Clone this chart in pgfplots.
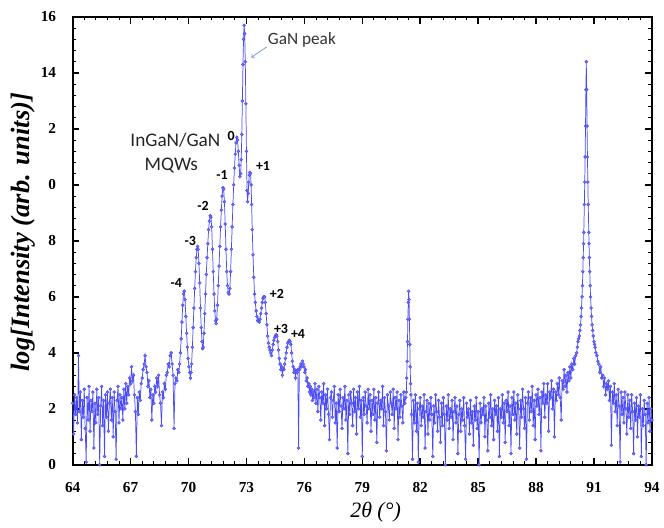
\documentclass[border=0pt]{standalone}
\usepackage{pgfplots}
\pgfplotsset{compat=1.18}
\usepackage{fontspec}
\setmainfont{Liberation Serif}
\newfontfamily\calibri{Carlito}
\definecolor{xrd}{RGB}{75,75,245}
\definecolor{arrowc}{RGB}{125,155,215}
\begin{document}
\begin{tikzpicture}
\begin{axis}[
  name=ax,
  scale only axis, width=436.5pt, height=337.5pt,
  xmin=64, xmax=94, ymin=0, ymax=16,
  xtick={64,67,...,94}, ytick={0,2,...,16},
  yticklabels={0,2,4,6,8,0,2,14,16},
  minor x tick num=4, minor y tick num=4,
  tick align=inside,
  major tick length=5pt, minor tick length=2.6pt,
  axis line style={line width=1.3pt},
  major tick style={black, line width=1.2pt},
  minor tick style={black, line width=0.6pt},
  ticklabel style={font=\bfseries\fontsize{11.5}{13}\selectfont},
  /pgf/number format/assume math mode=true,
  xticklabel style={yshift=-9.5pt},
  yticklabel style={xshift=-9pt},
  xlabel={2θ (°)},
  xlabel style={font=\itshape\fontsize{16.5}{18}\selectfont, at={(axis description cs:0.5,0)}, anchor=center, yshift=-36pt, xshift=10pt},
  ylabel={log[Intensity (arb. units)]},
  ylabel style={font=\bfseries\itshape\fontsize{20}{22}\selectfont, at={(axis description cs:0,0.5)}, anchor=center, yshift=37pt, xshift=6.5pt},
]
\addplot[color=xrd, line width=0.55pt, mark=*, mark size=1.15pt, mark options={fill=xrd!80, draw=xrd, line width=0.3pt}] coordinates {
(64.00,2.2)(64.05,1.1)(64.10,2.5)(64.15,1.8)(64.20,2.4)(64.25,1.5)(64.30,3.9)(64.35,1.9)(64.40,2.6)(64.45,0.9)
(64.50,2.3)(64.55,1.7)(64.60,2.7)(64.65,1.3)(64.70,0.1)(64.75,2.4)(64.80,1.6)(64.85,2.8)(64.90,1.2)(64.95,2.3)
(65.00,1.9)(65.05,2.6)(65.10,0.6)(65.15,2.2)(65.20,1.5)(65.25,2.7)(65.30,1.8)(65.35,2.4)(65.40,0.0)(65.45,2.1)
(65.50,2.8)(65.55,1.4)(65.60,2.3)(65.65,0.3)(65.70,2.5)(65.75,1.7)(65.80,2.6)(65.85,1.2)(65.90,2.2)(65.95,2.7)
(66.00,1.6)(66.05,2.4)(66.10,1.0)(66.15,2.6)(66.20,1.9)(66.25,0.2)(66.30,2.3)(66.35,2.8)(66.40,1.5)(66.45,2.5)
(66.50,2.0)(66.55,2.4)(66.60,1.6)(66.65,2.7)(66.70,2.0)(66.75,2.9)(66.80,2.2)(66.85,2.8)(66.90,2.5)(66.95,3.1)
(67.00,2.9)(67.05,3.5)(67.10,3.0)(67.15,3.2)(67.20,2.5)(67.25,1.9)(67.30,0.3)(67.35,2.4)(67.40,1.8)(67.45,2.6)
(67.50,2.3)(67.55,2.9)(67.60,3.1)(67.65,3.4)(67.70,3.6)(67.75,3.9)(67.80,3.5)(67.85,3.3)(67.90,2.8)(67.95,3.0)
(68.00,2.4)(68.05,2.7)(68.10,1.6)(68.15,2.5)(68.20,2.2)(68.25,2.8)(68.30,2.6)(68.35,3.1)(68.40,2.8)(68.45,3.2)
(68.50,2.5)(68.55,2.2)(68.60,1.4)(68.65,2.6)(68.70,2.4)(68.75,2.9)(68.80,2.7)(68.85,3.2)(68.90,3.3)(68.95,3.6)
(69.00,3.5)(69.05,3.9)(69.10,4.0)(69.15,3.6)(69.20,3.2)(69.25,1.3)(69.30,2.9)(69.35,3.1)(69.40,3.0)(69.45,3.4)
(69.50,3.3)(69.54,3.6)(69.58,4.0)(69.62,4.5)(69.66,5.1)(69.70,5.7)(69.74,6.1)(69.78,6.2)(69.82,5.9)(69.86,5.3)
(69.90,4.7)(69.94,4.2)(69.98,3.8)(70.02,3.5)(70.06,3.3)(70.10,3.1)(70.13,3.3)(70.16,3.6)(70.20,4.2)(70.24,4.9)
(70.28,5.6)(70.32,6.3)(70.36,6.9)(70.40,7.4)(70.44,7.7)(70.47,7.8)(70.50,7.7)(70.54,7.2)(70.58,6.5)(70.62,5.6)
(70.66,4.9)(70.70,4.4)(70.73,4.15)(70.76,4.2)(70.80,4.7)(70.84,5.4)(70.88,6.1)(70.92,6.8)(70.96,7.4)(71.00,7.9)
(71.04,8.4)(71.08,8.7)(71.12,8.9)(71.16,8.85)(71.20,8.5)(71.24,7.7)(71.28,6.9)(71.32,6.1)(71.36,5.5)(71.40,5.15)
(71.43,5.05)(71.46,5.2)(71.50,5.7)(71.54,6.4)(71.58,7.1)(71.62,7.8)(71.66,8.5)(71.70,9.1)(71.74,9.6)(71.78,9.9)
(71.82,9.85)(71.86,9.4)(71.90,8.6)(71.94,7.7)(71.98,6.9)(72.02,6.4)(72.06,6.15)(72.10,6.1)(72.14,6.3)(72.18,6.9)
(72.22,7.7)(72.26,8.5)(72.30,9.3)(72.34,10.0)(72.38,10.6)(72.42,11.1)(72.46,11.5)(72.50,11.7)(72.54,11.6)(72.58,11.2)
(72.62,10.7)(72.66,10.3)(72.70,10.4)(72.73,10.9)(72.76,11.8)(72.79,13.0)(72.82,14.3)(72.85,15.2)(72.88,15.7)(72.91,15.4)
(72.94,14.4)(72.97,12.9)(73.00,11.2)(73.03,9.8)(73.06,9.4)(73.09,9.7)(73.12,10.1)(73.15,10.35)(73.18,10.45)(73.21,10.4)
(73.24,10.0)(73.27,9.3)(73.30,8.4)(73.34,7.5)(73.38,6.7)(73.42,6.1)(73.46,5.8)(73.50,5.5)(73.54,5.3)(73.58,5.15)
(73.62,5.2)(73.66,5.1)(73.70,5.2)(73.74,5.4)(73.78,5.6)(73.82,5.8)(73.86,5.95)(73.90,6.0)(73.94,6.0)(73.98,5.8)
(74.02,5.4)(74.06,5.0)(74.10,4.6)(74.14,4.35)(74.18,4.2)(74.22,4.1)(74.26,4.0)(74.30,3.9)(74.34,4.1)(74.38,4.3)
(74.42,4.45)(74.46,4.55)(74.50,4.6)(74.54,4.65)(74.58,4.6)(74.62,4.4)(74.66,4.1)(74.70,3.8)(74.74,3.6)(74.78,3.4)
(74.82,3.5)(74.86,3.2)(74.90,3.45)(74.94,3.4)(74.98,3.6)(75.02,3.8)(75.06,4.0)(75.10,4.2)(75.14,4.35)(75.18,4.4)
(75.22,4.45)(75.26,4.4)(75.30,4.3)(75.34,4.0)(75.38,3.7)(75.42,3.5)(75.46,3.3)(75.50,3.4)(75.54,3.1)(75.58,3.35)
(75.62,3.3)(75.66,3.4)(75.70,0.6)(75.74,3.4)(75.78,3.5)(75.82,3.6)(75.86,3.5)(75.90,3.7)(75.94,3.6)(75.98,3.5)
(76.02,3.3)(76.06,3.4)(76.10,3.0)(76.14,3.1)(76.18,2.8)(76.22,2.9)(76.26,2.6)(76.30,2.8)(76.34,2.5)(76.38,2.7)
(76.42,2.3)(76.46,2.6)(76.50,2.4)
(76.55,2.9)(76.60,2.2)(76.65,2.7)(76.70,1.9)(76.75,2.8)(76.80,2.4)(76.85,1.6)(76.90,2.6)(76.95,2.2)(77.00,2.9)
(77.05,1.4)(77.10,2.5)(77.15,2.0)(77.20,2.7)(77.25,1.8)(77.30,0.9)(77.35,2.4)(77.40,2.6)(77.45,1.7)(77.50,2.3)
(77.55,2.8)(77.60,1.5)(77.65,2.2)(77.70,0.6)(77.75,2.5)(77.80,1.9)(77.85,2.7)(77.90,2.1)(77.95,1.3)(78.00,2.4)
(78.05,2.0)(78.10,2.8)(78.15,1.6)(78.20,2.3)(78.25,0.4)(78.30,2.5)(78.35,1.8)(78.40,2.6)(78.45,2.2)(78.50,1.4)
(78.55,2.7)(78.60,1.9)(78.65,2.4)(78.70,1.1)(78.75,2.6)(78.80,2.0)(78.85,2.8)(78.90,1.7)(78.95,2.3)(79.00,0.3)
(79.05,2.4)(79.10,1.8)(79.15,2.6)(79.20,2.1)(79.25,1.5)(79.30,2.7)(79.35,2.0)(79.40,2.5)(79.45,1.2)(79.50,2.3)
(79.55,1.8)(79.60,2.7)(79.65,1.6)(79.70,2.4)(79.75,0.8)(79.80,2.2)(79.85,2.6)(79.90,1.7)(79.95,2.3)(80.00,2.0)
(80.05,2.8)(80.10,1.4)(80.15,2.4)(80.20,1.9)(80.25,0.5)(80.30,2.5)(80.35,2.1)(80.40,1.6)(80.45,2.6)(80.50,2.2)
(80.55,1.8)(80.60,2.7)(80.65,1.3)(80.70,2.4)(80.75,2.0)(80.80,2.6)(80.85,0.9)(80.90,2.3)(80.95,1.7)(81.00,2.5)
(81.05,2.1)(81.10,1.5)(81.15,2.6)(81.20,2.2)(81.25,2.4)
(81.28,2.6)(81.30,3.1)(81.32,3.7)(81.34,4.4)(81.36,5.2)(81.38,5.8)(81.40,6.2)(81.42,5.9)(81.44,5.2)(81.46,4.3)
(81.48,3.5)(81.50,2.9)(81.52,2.5)
(81.55,1.8)(81.60,0.2)(81.65,2.3)(81.70,1.5)(81.75,2.5)(81.80,1.2)(81.85,2.2)(81.90,0.1)(81.95,2.0)(82.00,2.4)
(82.05,1.4)(82.10,2.1)(82.15,1.7)(82.20,2.5)(82.25,0.6)(82.30,1.9)(82.35,2.3)(82.40,1.1)(82.45,2.2)(82.50,1.6)
(82.55,2.4)(82.60,1.8)(82.65,0.3)(82.70,2.1)(82.75,1.5)(82.80,2.5)(82.85,1.9)(82.90,1.2)(82.95,2.3)(83.00,1.7)
(83.05,0.8)(83.10,2.2)(83.15,1.4)(83.20,2.4)(83.25,1.8)(83.30,0.0)(83.35,2.1)(83.40,1.6)(83.45,2.5)(83.50,1.3)
(83.55,2.0)(83.60,1.7)(83.65,2.3)(83.70,0.9)(83.75,1.9)(83.80,2.4)(83.85,1.5)(83.90,2.1)(83.95,0.4)(84.00,1.8)
(84.05,2.3)(84.10,1.2)(84.15,2.0)(84.20,1.6)(84.25,2.4)(84.30,1.4)(84.35,0.2)(84.40,2.2)(84.45,1.7)(84.50,2.0)
(84.55,1.1)(84.60,2.3)(84.65,1.5)(84.70,1.9)(84.75,0.7)(84.80,2.1)(84.85,1.6)(84.90,2.4)(84.95,1.3)(85.00,1.9)
(85.05,0.0)(85.10,2.2)(85.15,1.5)(85.20,2.0)(85.25,1.8)(85.30,2.4)(85.35,1.0)(85.40,2.1)(85.45,1.6)(85.50,0.5)
(85.55,2.2)(85.60,1.7)(85.65,2.5)(85.70,1.4)(85.75,2.0)(85.80,0.9)(85.85,2.3)(85.90,1.8)(85.95,2.1)(86.00,1.2)
(86.05,2.4)(86.10,0.3)(86.15,2.0)(86.20,1.7)(86.25,2.5)(86.30,1.5)(86.35,2.2)(86.40,0.8)(86.45,2.3)(86.50,1.9)
(86.55,2.6)(86.60,1.4)(86.65,2.1)(86.70,0.4)(86.75,2.4)(86.80,1.8)(86.85,2.6)(86.90,1.6)(86.95,2.2)(87.00,1.1)
(87.05,2.5)(87.10,2.0)(87.15,0.6)(87.20,2.3)(87.25,1.7)(87.30,2.7)(87.35,2.0)(87.40,1.3)(87.45,2.4)(87.50,0.2)
(87.55,2.2)(87.60,2.6)(87.65,1.6)(87.70,2.4)(87.75,1.9)(87.80,2.8)(87.85,1.4)(87.90,2.3)(87.95,0.9)(88.00,2.5)
(88.05,2.1)(88.10,2.7)(88.15,1.8)(88.20,2.4)(88.25,0.5)(88.30,2.6)(88.35,2.2)(88.40,2.9)(88.45,1.7)(88.50,2.5)
(88.55,2.2)(88.60,2.9)(88.65,1.2)(88.70,2.6)(88.75,2.4)(88.80,3.0)(88.85,2.0)(88.90,2.7)(88.95,1.0)(89.00,2.6)
(89.05,2.3)(89.10,2.9)(89.15,2.5)(89.20,3.1)(89.25,2.4)(89.30,1.6)(89.35,3.0)(89.40,2.7)(89.45,3.4)(89.50,2.8)
(89.55,3.2)(89.60,2.6)(89.65,3.3)(89.70,3.0)(89.75,3.5)(89.80,3.1)(89.85,3.6)(89.90,3.4)(89.95,3.8)(90.00,3.6)
(90.05,3.9)(90.10,4.0)(90.14,4.2)(90.17,4.4)(90.20,4.5)(90.24,4.6)(90.27,4.8)(90.30,5.0)(90.33,5.3)(90.35,5.6)
(90.38,6.0)(90.40,6.4)(90.42,6.9)(90.44,7.4)(90.46,7.9)(90.47,8.3)(90.50,9.3)(90.52,10.1)(90.54,11.0)(90.56,12.1)
(90.58,13.4)(90.60,14.4)(90.62,13.4)(90.64,12.1)(90.66,11.0)(90.68,10.1)(90.70,9.3)(90.73,8.3)(90.74,7.9)(90.76,7.4)
(90.78,6.9)(90.80,6.4)(90.82,6.0)(90.85,5.6)(90.87,5.3)(90.90,5.0)(90.93,4.8)(90.96,4.6)(91.00,4.4)(91.03,4.3)
(91.06,4.2)(91.10,4.0)(91.15,3.9)(91.20,3.7)(91.25,3.6)(91.30,3.3)(91.35,3.5)(91.40,3.1)(91.45,3.2)(91.50,2.8)
(91.55,3.1)(91.60,2.5)(91.65,2.9)
(91.70,2.7)(91.75,3.0)(91.80,2.3)(91.85,2.8)(91.90,0.7)(91.95,2.6)(92.00,2.2)(92.05,2.9)(92.10,1.9)(92.15,2.5)
(92.20,1.4)(92.25,2.7)(92.30,2.1)(92.35,0.1)(92.40,2.6)(92.45,1.8)(92.50,2.4)(92.55,1.5)(92.60,2.6)(92.65,2.0)
(92.70,1.1)(92.75,2.5)(92.80,1.7)(92.85,2.3)(92.90,1.3)(92.95,2.5)(93.00,1.9)(93.05,0.4)(93.10,2.2)(93.15,1.6)
(93.20,2.4)(93.25,1.0)(93.30,2.1)(93.35,1.7)(93.40,2.5)(93.45,0.3)(93.50,2.0)(93.55,1.4)(93.60,2.3)(93.65,1.8)
(93.70,0.0)(93.75,2.2)(93.80,1.5)(93.85,2.4)(93.90,1.2)(93.95,2.0)(94.00,1.6)
};
\node[font=\calibri\fontsize{13}{15}\selectfont, text=black!80] at (axis cs:75.87,15.18) {GaN peak};
\draw[->, arrowc, line width=0.6pt] (axis cs:74.05,14.93) -- (axis cs:73.25,14.55);
\node[font=\calibri\fontsize{14.5}{17}\selectfont, text=black!85] at (axis cs:69.32,11.59) {InGaN/GaN};
\node[font=\calibri\fontsize{14.5}{17}\selectfont, text=black!85] at (axis cs:69.11,10.7) {MQWs};
\begin{scope}[every node/.style={font=\calibri\bfseries\fontsize{10.5}{12}\selectfont}]
\node at (axis cs:72.21,11.73) {0};
\node at (axis cs:71.74,10.35) {-1};
\node at (axis cs:73.86,10.67) {+1};
\node at (axis cs:70.75,9.24) {-2};
\node at (axis cs:70.09,8.0) {-3};
\node at (axis cs:69.37,6.51) {-4};
\node at (axis cs:74.58,6.12) {+2};
\node at (axis cs:74.79,4.84) {+3};
\node at (axis cs:75.67,4.69) {+4};
\end{scope}
\end{axis}
\path ([shift={(-54.75pt,-42pt)}]ax.south west) rectangle ([shift={(6.75pt,12.75pt)}]ax.north east);
\end{tikzpicture}
\end{document}
